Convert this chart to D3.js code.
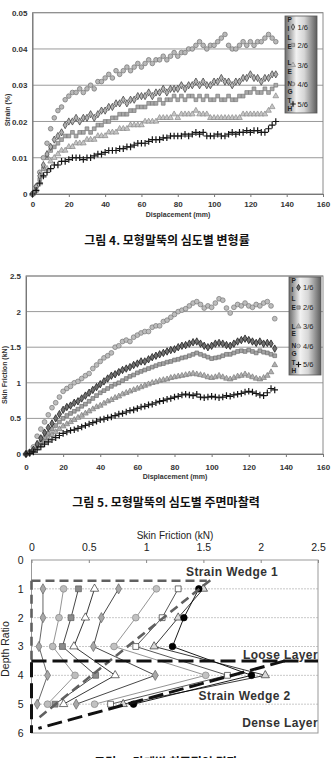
<!DOCTYPE html>
<html>
<head>
<meta charset="utf-8">
<script src="https://cdn.jsdelivr.net/npm/d3@7"></script>
<style>
  body { margin: 0; background: #fff; }
  svg { display: block; font-family: "Liberation Sans", Arial, sans-serif; }
  .cap { font-family: "Noto Sans CJK KR", sans-serif; font-weight: bold; font-size: 12px; fill: #111; }
</style>
</head>
<body>
<svg id="fig" width="334" height="758"></svg>
<script>
// ---- shared values ----
const displacement = [0,2,4,6,8,10,12,14,16,18,20,22,24,26,28,30,32,
  34,36,38,40,42,44,46,48,50,52,54,56,58,60,62,64,66,
  68,70,72,74,76,78,80,82,84,86,88,90,92,94,96,98,100,
  102,104,106,108,110,112,114,116,118,120,122,124,126,128,130,132,134];
const displacementTicks = [0,20,40,60,80,100,120,140,160];
const pileLengths = ["1/6","2/6","3/6","4/6","5/6"];
const legendLetters = ["P","I","L","E","","L","E","N","G","T","H"];

// ---- fig 4: strain (%) by depth ----
const strainTicks = [0,0.01,0.02,0.03,0.04,0.05];
const strain1 = [0,.002,.005,.008,.011,.013,.015,.016,.017,.019,.020,.020,.021,.020,.021,.021,.022,
  .021,.022,.023,.023,.024,.024,.025,.025,.026,.025,.026,.026,.027,.027,.027,.028,.027,
  .028,.028,.029,.028,.029,.029,.029,.030,.029,.030,.030,.031,.030,.031,.030,.030,.031,
  .031,.032,.031,.031,.030,.031,.031,.032,.032,.033,.032,.032,.031,.032,.032,.033,.033];
const strain2 = [0,.001,.004,.007,.010,.012,.013,.014,.015,.016,.016,.017,.016,.017,.017,.018,.017,
  .018,.019,.019,.020,.020,.021,.021,.022,.022,.022,.023,.023,.024,.024,.024,.025,.025,
  .025,.026,.025,.026,.026,.027,.026,.027,.026,.027,.027,.026,.027,.026,.027,.026,.026,
  .027,.026,.026,.027,.026,.026,.027,.027,.028,.028,.029,.028,.028,.029,.028,.029,.030];
const strain3 = [0,.001,.003,.005,.007,.009,.010,.011,.012,.012,.013,.013,.014,.014,.014,.015,.015,
  .015,.016,.016,.016,.017,.017,.017,.018,.018,.018,.019,.019,.019,.019,.020,.020,.020,
  .020,.021,.021,.021,.021,.022,.021,.022,.022,.022,.022,.023,.022,.022,.022,.021,.021,
  .021,.021,.021,.021,.021,.021,.021,.022,.022,.022,.022,.022,.022,.022,.023,.024,.027];
const strain4 = [0,.002,.006,.010,.014,.018,.021,.023,.024,.026,.027,.028,.028,.029,.028,.029,.030,
  .029,.031,.031,.032,.033,.032,.034,.033,.034,.035,.034,.035,.036,.035,.036,.037,.036,
  .037,.037,.038,.037,.038,.039,.038,.039,.039,.040,.040,.041,.042,.041,.040,.041,.041,
  .042,.043,.044,.041,.040,.040,.041,.042,.041,.042,.041,.042,.042,.043,.044,.043,.042];
const strain5 = [0,.001,.003,.005,.006,.007,.008,.008,.009,.009,.0095,.010,.010,.010,.0095,.010,.010,
  .0105,.011,.011,.0115,.012,.012,.012,.0125,.0125,.013,.013,.0135,.014,.014,.014,.0145,.015,
  .015,.015,.0155,.0155,.016,.016,.016,.016,.0165,.016,.0165,.017,.0165,.017,.016,.016,.016,
  .0165,.016,.016,.0165,.017,.0165,.017,.017,.0175,.017,.0175,.0175,.017,.017,.018,.019,.020];

// ---- fig 5: skin friction (kN) by depth ----
const frictionTicks = [0,0.5,1,1.5,2,2.5];
const friction1 = [0,.02,.06,.14,.22,.3,.37,.43,.5,.56,.62,.66,.68,.72,.74,.78,.82,
  .86,.9,.94,.98,1.02,1.06,1.1,1.12,1.15,1.18,1.2,1.22,1.25,1.27,1.3,1.3,1.33,
  1.36,1.38,1.4,1.42,1.44,1.46,1.47,1.5,1.52,1.53,1.55,1.57,1.58,1.55,1.52,1.5,1.52,
  1.55,1.56,1.55,1.53,1.52,1.55,1.58,1.6,1.62,1.6,1.58,1.56,1.58,1.55,1.56,1.55,1.48];
const friction2 = [0,.02,.05,.11,.17,.23,.29,.35,.4,.45,.5,.54,.57,.6,.63,.67,.7,
  .74,.78,.82,.86,.89,.92,.95,.98,1.0,1.03,1.06,1.09,1.11,1.14,1.16,1.18,1.2,
  1.22,1.24,1.26,1.27,1.29,1.3,1.32,1.33,1.35,1.36,1.38,1.4,1.42,1.4,1.38,1.36,1.34,
  1.35,1.36,1.38,1.4,1.4,1.42,1.44,1.45,1.44,1.46,1.44,1.42,1.45,1.43,1.42,1.4,1.38];
const friction3 = [0,.02,.04,.08,.13,.18,.22,.27,.31,.35,.39,.42,.45,.48,.51,.54,.57,
  .6,.63,.66,.68,.71,.74,.76,.79,.81,.84,.86,.88,.9,.92,.94,.96,.98,
  1.0,1.01,1.03,1.04,1.05,1.07,1.08,1.09,1.1,1.11,1.12,1.13,1.12,1.11,1.1,1.08,1.07,
  1.08,1.1,1.08,1.06,1.05,1.07,1.09,1.1,1.12,1.1,1.08,1.06,1.05,1.07,1.1,1.15,1.25];
const friction4 = [0,.03,.1,.25,.35,.45,.55,.65,.72,.8,.88,.92,.95,1.0,1.02,1.06,1.1,
  1.13,1.2,1.25,1.3,1.35,1.38,1.42,1.5,1.52,1.58,1.6,1.58,1.64,1.67,1.7,1.72,1.72,
  1.78,1.8,1.8,1.86,1.88,1.92,1.96,2.0,2.02,2.04,2.08,2.12,2.14,2.1,2.05,2.08,2.06,
  2.12,2.18,2.16,2.05,1.98,2.06,2.1,2.08,2.12,2.08,2.06,2.1,2.08,2.12,2.14,2.08,1.9];
const friction5 = [0,.01,.03,.06,.1,.14,.17,.2,.23,.26,.29,.31,.33,.34,.36,.38,.4,
  .42,.44,.46,.48,.49,.51,.52,.54,.56,.57,.59,.61,.62,.64,.66,.67,.69,
  .7,.72,.74,.75,.77,.78,.8,.81,.83,.84,.83,.82,.84,.8,.79,.8,.81,
  .8,.79,.8,.82,.81,.83,.84,.85,.87,.88,.87,.85,.83,.82,.86,.92,.9];

// ---- fig 6: friction profile along depth ratio ----
const depthRatio = [1,2,3,4,5];
const depthTicks = [0,1,2,3,4,5,6];
const profileTicks = [0,0.5,1,1.5,2,2.5];
const profile1 = [0.10,0.10,0.065,0.14,0.05];
const profile2 = [0.28,0.24,0.185,0.38,0.14];
const profile3 = [0.41,0.345,0.27,0.56,0.205];
const profile4 = [0.55,0.47,0.37,0.73,0.28];
const profile5 = [0.76,0.61,0.54,1.08,0.39];
const profile6 = [1.09,0.91,0.72,1.52,0.55];
const profile7 = [1.28,1.14,0.91,1.71,0.69];
const profile8 = [1.50,1.28,1.07,2.04,0.80];
const profile9 = [1.46,1.33,1.23,1.92,0.89];
// wedge / layer guide lines in (friction, depth) units
const wedgeGray = [[[0,0.72],[1.53,0.72]], [[0,0.72],[0,3.5]], [[1.56,0.7],[0.07,5.45]]];
const wedgeBlack = [[[0,3.5],[2.5,3.5]], [[0,3.55],[0,6]], [[2.21,3.5],[0.06,5.84]]];
const zoneLabels = [
  {text: "Strain Wedge 1", f: 1.75, d: 0.55, anchor: "middle"},
  {text: "Loose Layer", f: 2.5, d: 3.43, anchor: "end"},
  {text: "Strain Wedge 2", f: 1.86, d: 4.85, anchor: "middle"},
  {text: "Dense Layer", f: 2.5, d: 5.8, anchor: "end"}
];

const svg = d3.select('#fig');
svg.append('rect').attr('width', 334).attr('height', 758).attr('fill', '#fff');

const defs = svg.append('defs');
const grad = defs.append('linearGradient').attr('id', 'legendGrad');
[[0,'#6a6a6a'],[0.35,'#f2f2f2'],[0.6,'#d6d6d6'],[1,'#5c5c5c']].forEach(s => {
  grad.append('stop').attr('offset', s[0]).attr('stop-color', s[1]);
});

const symbolOf = {
  diamond: d3.symbolDiamond,
  square: d3.symbolSquare,
  triangle: d3.symbolTriangle,
  circle: d3.symbolCircle,
  plus: d3.symbolPlus || d3.symbolCross
};

function marker(sel, kind, size, st) {
  sel.attr('d', d3.symbol().type(symbolOf[kind]).size(size)())
    .attr('fill', kind === 'plus' ? 'none' : st.fill)
    .attr('stroke', st.stroke)
    .attr('stroke-width', st.sw || 0.7);
}

function scatterPanel(cfg) {
  const g = svg.append('g');
  const x = d3.scaleLinear().domain([0, 160]).range([cfg.left, cfg.right]);
  const y = d3.scaleLinear().domain([0, cfg.yMax]).range([cfg.bottom, cfg.top]);

  // horizontal gridlines
  g.selectAll('line.grid').data(cfg.yTicks.slice(1)).join('line')
    .attr('x1', cfg.left).attr('x2', cfg.right)
    .attr('y1', d => y(d)).attr('y2', d => y(d))
    .attr('stroke', '#9a9a9a').attr('stroke-width', 1);

  g.append('rect')
    .attr('x', cfg.left).attr('y', cfg.top)
    .attr('width', cfg.right - cfg.left).attr('height', cfg.bottom - cfg.top)
    .attr('fill', 'none').attr('stroke', '#8a8a8a');

  const xa = g.append('g').attr('transform', `translate(0,${cfg.bottom})`)
    .call(d3.axisBottom(x).tickValues(displacementTicks).tickSize(3).tickSizeOuter(0).tickPadding(cfg.xPad));
  xa.attr('font-family', null);
  xa.select('.domain').attr('stroke', '#777');
  xa.selectAll('.tick line').attr('stroke', '#777');
  xa.selectAll('text').attr('font-size', 8).attr('font-weight', 'bold').attr('fill', '#333');

  const ya = g.append('g').attr('transform', `translate(${cfg.left},0)`)
    .call(d3.axisLeft(y).tickValues(cfg.yTicks).tickSize(0).tickPadding(cfg.yPad).tickFormat(cfg.fmt));
  ya.attr('font-family', null);
  ya.select('.domain').attr('stroke', '#777');
  ya.selectAll('text').attr('font-size', 8).attr('font-weight', 'bold').attr('fill', '#333');

  g.append('text').attr('x', cfg.xTitleX).attr('y', cfg.xTitleY)
    .attr('text-anchor', 'middle').attr('font-size', 7).attr('font-weight', 'bold').attr('fill', '#333')
    .text('Displacement (mm)');
  g.append('text').attr('transform', `translate(${cfg.yTitleX},${cfg.yTitleY})rotate(-90)`)
    .attr('text-anchor', 'middle').attr('font-size', 7).attr('font-weight', 'bold').attr('fill', '#333')
    .text(cfg.yTitle);

  // series, drawn lightest first
  cfg.series.forEach(s => {
    g.append('g').selectAll('path').data(s.values).join('path')
      .attr('transform', (d, i) => `translate(${x(displacement[i])},${y(d)})`)
      .call(marker, s.kind, s.size || 14, s.style);
  });

  // legend
  const L = cfg.legend;
  const lg = g.append('g');
  lg.append('rect').attr('x', L.x).attr('y', L.y).attr('width', L.w).attr('height', L.h)
    .attr('fill', 'url(#legendGrad)').attr('stroke', '#555').attr('stroke-width', 0.8);
  lg.selectAll('text.letter').data(legendLetters).join('text')
    .attr('x', L.x + 2.5).attr('y', (d, i) => L.letterY[i])
    .attr('font-size', 6.5).attr('font-weight', 'bold').attr('fill', '#222')
    .text(d => d);
  const entries = cfg.series.slice().sort((a, b) => a.order - b.order);
  entries.forEach((s, i) => {
    lg.append('path').attr('transform', `translate(${L.mx},${L.itemY[i] - 2.5})`)
      .call(marker, s.kind, 11, s.legendStyle || s.style);
    lg.append('text').attr('x', L.tx).attr('y', L.itemY[i])
      .attr('font-size', 7.5).attr('fill', '#222').text(pileLengths[s.order]);
  });
}

// fig 4
scatterPanel({
  left: 32.5, right: 323, top: 12.7, bottom: 194,
  yMax: 0.05, yTicks: strainTicks, fmt: d => d === 0 ? '0' : d.toFixed(2),
  xPad: 4, yPad: 5,
  xTitleX: 178, xTitleY: 216.5, yTitleX: 10, yTitleY: 110, yTitle: 'Strain (%)',
  series: [
    {order: 2, kind: 'triangle', values: strain3, style: {fill: '#c6c6c6', stroke: '#8a8a8a'}},
    {order: 1, kind: 'square', values: strain2, style: {fill: '#a9a9a9', stroke: '#7a7a7a'}},
    {order: 3, kind: 'circle', values: strain4, size: 17, style: {fill: '#b9b9b9', stroke: '#6e6e6e'}},
    {order: 0, kind: 'diamond', values: strain1, size: 15, style: {fill: '#b0b0b0', stroke: '#3a3a3a'}},
    {order: 4, kind: 'plus', values: strain5, size: 16, style: {stroke: '#151515', sw: 1.2}}
  ],
  legend: {x: 285, y: 16, w: 32, h: 97, mx: 293, tx: 297.5,
    letterY: [21.5, 30.5, 39.5, 49, 0, 65, 73.5, 85.5, 93.5, 102.5, 110.5],
    itemY: [29.5, 47.5, 67.5, 86.5, 106.5]}
});

// fig 5
scatterPanel({
  left: 26, right: 323, top: 276, bottom: 454,
  yMax: 2.5, yTicks: frictionTicks, fmt: d3.format('~g'),
  xPad: 7, yPad: 5,
  xTitleX: 175, xTitleY: 478.5, yTitleX: 7, yTitleY: 375, yTitle: 'Skin Friction (kN)',
  series: [
    {order: 2, kind: 'triangle', values: friction3, style: {fill: '#b0b0b0', stroke: '#7a7a7a'}},
    {order: 1, kind: 'square', values: friction2, style: {fill: '#a3a3a3', stroke: '#6f6f6f'}},
    {order: 3, kind: 'circle', values: friction4, size: 18, style: {fill: '#bdbdbd', stroke: '#777'}},
    {order: 0, kind: 'diamond', values: friction1, size: 16, style: {fill: '#707070', stroke: '#111'}},
    {order: 4, kind: 'plus', values: friction5, size: 16, style: {stroke: '#151515', sw: 1.2}}
  ],
  legend: {x: 289, y: 277, w: 32, h: 98, mx: 298.5, tx: 303,
    letterY: [283, 292, 300.5, 309.5, 0, 328.5, 335.5, 347.5, 355.5, 364.5, 373],
    itemY: [290, 310, 329, 348.5, 367]}
});

// fig 6
(function profilePanel() {
  const left = 31.5, right = 318, top = 560, bottom = 733;
  const g = svg.append('g');
  const x = d3.scaleLinear().domain([0, 2.5]).range([left, right]);
  const y = d3.scaleLinear().domain([0, 6]).range([top, bottom]);

  g.selectAll('line.grid').data(depthRatio).join('line')
    .attr('x1', left).attr('x2', right).attr('y1', d => y(d)).attr('y2', d => y(d))
    .attr('stroke', '#777').attr('stroke-width', 0.8).attr('stroke-dasharray', '1,2');

  g.append('rect').attr('x', left).attr('y', top).attr('width', right - left).attr('height', bottom - top)
    .attr('fill', 'none').attr('stroke', '#999');

  const xa = g.append('g').attr('transform', `translate(0,${top})`)
    .call(d3.axisTop(x).tickValues(profileTicks).tickSize(-3).tickSizeOuter(0).tickPadding(9).tickFormat(d3.format('~g')));
  xa.attr('font-family', null);
  xa.select('.domain').remove();
  xa.selectAll('.tick line').attr('stroke', '#888');
  xa.selectAll('text').attr('font-size', 10.5).attr('fill', '#222');

  const ya = g.append('g').attr('transform', `translate(${left},0)`)
    .call(d3.axisLeft(y).tickValues(depthTicks).tickSize(0).tickPadding(8).tickFormat(d3.format('d')));
  ya.attr('font-family', null);
  ya.select('.domain').remove();
  ya.selectAll('text').attr('font-size', 10.5).attr('fill', '#222');

  g.append('text').attr('x', 175).attr('y', 539).attr('text-anchor', 'middle')
    .attr('font-size', 10).attr('fill', '#222').text('Skin Friction (kN)');
  g.append('text').attr('transform', `translate(9,649)rotate(-90)`).attr('text-anchor', 'middle')
    .attr('font-size', 10.5).attr('fill', '#222').text('Depth Ratio');

  const series = [
    {vals: profile1, kind: 'diamond', size: 30, line: '#555', st: {fill: '#a8a8a8', stroke: '#666'}},
    {vals: profile2, kind: 'circle', size: 36, line: '#888', st: {fill: '#bdbdbd', stroke: '#888'}},
    {vals: profile3, kind: 'square', size: 34, line: '#333', st: {fill: '#8c8c8c', stroke: '#5a5a5a'}},
    {vals: profile4, kind: 'triangle', size: 30, line: '#222', st: {fill: '#fff', stroke: '#333'}},
    {vals: profile5, kind: 'diamond', size: 30, line: '#333', st: {fill: '#a8a8a8', stroke: '#666'}},
    {vals: profile6, kind: 'circle', size: 36, line: '#888', st: {fill: '#c2c2c2', stroke: '#888'}},
    {vals: profile7, kind: 'square', size: 34, line: '#444', st: {fill: '#fff', stroke: '#333'}},
    {vals: profile8, kind: 'triangle', size: 30, line: '#222', st: {fill: '#d8d8d8', stroke: '#333'}},
    {vals: profile9, kind: 'circle', size: 34, line: '#000', st: {fill: '#000', stroke: '#000'}}
  ];
  const line = d3.line().x(d => x(d[0])).y(d => y(d[1]));
  series.forEach(s => {
    const pts = s.vals.map((v, i) => [v, depthRatio[i]]);
    g.append('path').attr('d', line(pts)).attr('fill', 'none').attr('stroke', s.line).attr('stroke-width', 0.9);
  });
  series.forEach(s => {
    g.append('g').selectAll('path').data(s.vals).join('path')
      .attr('transform', (d, i) => `translate(${x(d)},${y(depthRatio[i])})`)
      .call(marker, s.kind, s.size, s.st);
  });

  wedgeGray.forEach(seg => {
    g.append('path').attr('d', line(seg)).attr('fill', 'none')
      .attr('stroke', '#606060').attr('stroke-width', 2.6).attr('stroke-dasharray', '9,5');
  });
  wedgeBlack.forEach(seg => {
    g.append('path').attr('d', line(seg)).attr('fill', 'none')
      .attr('stroke', '#111').attr('stroke-width', 3).attr('stroke-dasharray', '15,6');
  });

  g.selectAll('text.zone').data(zoneLabels).join('text')
    .attr('x', d => x(d.f)).attr('y', d => y(d.d)).attr('text-anchor', d => d.anchor)
    .attr('font-size', 12).attr('font-weight', 'bold').attr('letter-spacing', 0.4).attr('fill', '#333')
    .text(d => d.text);
})();

svg.append('text').attr('class', 'cap').attr('x', 167).attr('y', 245).attr('text-anchor', 'middle')
  .text('그림 4. 모형말뚝의 심도별 변형률');
svg.append('text').attr('class', 'cap').attr('x', 166).attr('y', 507).attr('text-anchor', 'middle')
  .text('그림 5. 모형말뚝의 심도별 주면마찰력');
// third caption is cropped by the bottom edge in the source image
svg.append('text').attr('class', 'cap').attr('x', 166).attr('y', 767).attr('text-anchor', 'middle')
  .text('그림 6. 단계별 최종적인 결과');
</script>
</body>
</html>
